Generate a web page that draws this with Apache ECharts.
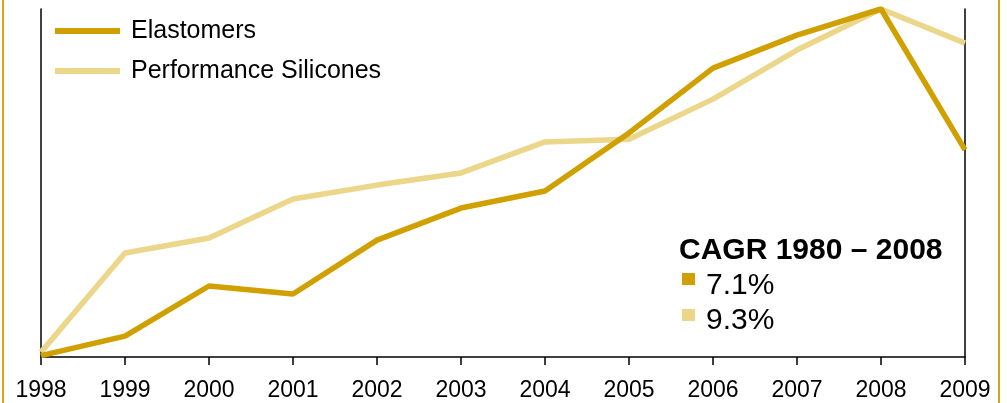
<!DOCTYPE html>
<html>
<head>
<meta charset="utf-8">
<script src="https://cdn.jsdelivr.net/npm/echarts@6/dist/echarts.min.js"></script>
<style>
html,body{margin:0;padding:0;background:#fff;}
#c{width:1007px;height:403px;}
</style>
</head>
<body>
<div id="c"></div>
<script>
var years = ['1998','1999','2000','2001','2002','2003','2004','2005','2006','2007','2008','2009'];
var elastomers = [0.4, 6.0, 20.4, 18.1, 33.6, 42.8, 47.7, 64.4, 83.0, 92.5, 100, 59.5];
var silicones = [1.4, 29.9, 34.2, 45.4, 49.4, 52.9, 61.8, 62.6, 74.1, 88.2, 100, 90.2];
var seriesNames = ['Elastomers', 'Performance Silicones'];
var cagrTitle = 'CAGR 1980 \u2013 2008';
var cagrValues = ['7.1%', '9.3%'];

var C1 = '#D0A000';
var C2 = '#EBD68A';
var FONT = '"Liberation Sans", Arial, sans-serif';

var chart = echarts.init(document.getElementById('c'), null, {renderer: 'canvas'});
chart.setOption({
  animation: false,
  backgroundColor: '#fff',
  grid: {left: 41, right: 42, top: 9, bottom: 46, containLabel: false},
  legend: {
    orient: 'vertical',
    left: 50,
    top: 13,
    itemWidth: 65,
    itemHeight: 6,
    itemGap: 14,
    icon: 'rect',
    data: [
      {name: seriesNames[0], itemStyle: {color: C1}},
      {name: seriesNames[1], itemStyle: {color: C2}}
    ],
    textStyle: {fontFamily: FONT, fontSize: 25, color: '#000', padding: [0, 0, 0, 6], lineHeight: 26}
  },
  xAxis: {
    type: 'category',
    data: years,
    boundaryGap: false,
    axisLine: {lineStyle: {color: '#000', width: 1.5}},
    axisTick: {show: true, inside: false, length: 8, lineStyle: {color: '#000', width: 1.5}},
    axisLabel: {fontFamily: FONT, fontSize: 23, color: '#000', margin: 22, showMinLabel: true, showMaxLabel: true, interval: 0},
    splitLine: {show: false}
  },
  yAxis: [
    {type: 'value', min: 0, max: 100, axisLine: {show: true, lineStyle: {color: '#000', width: 1.5}},
     axisTick: {show: false}, axisLabel: {show: false}, splitLine: {show: false}},
    {type: 'value', min: 0, max: 100, position: 'right', axisLine: {show: true, lineStyle: {color: '#000', width: 1.5}},
     axisTick: {show: false}, axisLabel: {show: false}, splitLine: {show: false}}
  ],
  series: [
    {name: seriesNames[1], type: 'line', data: silicones, showSymbol: false, symbol: 'none',
     lineStyle: {color: C2, width: 5.5}, itemStyle: {color: C2}, z: 2},
    {name: seriesNames[0], type: 'line', data: elastomers, showSymbol: false, symbol: 'none',
     lineStyle: {color: C1, width: 5.5}, itemStyle: {color: C1}, z: 3}
  ],
  graphic: [
    {type: 'rect', shape: {x: 2, y: 0, width: 2, height: 403}, style: {fill: '#D4A419'}, silent: true},
    {type: 'rect', shape: {x: 998, y: 0, width: 2, height: 403}, style: {fill: '#D4A419'}, silent: true},
    {type: 'text', left: 679, top: 236, style: {text: cagrTitle, font: 'bold 30px ' + FONT, fill: '#000'}},
    {type: 'rect', shape: {x: 682, y: 273, width: 13, height: 12}, style: {fill: C1}},
    {type: 'rect', shape: {x: 682, y: 309, width: 13, height: 12}, style: {fill: C2}},
    {type: 'text', left: 706, top: 271, style: {text: cagrValues[0], font: '30px ' + FONT, fill: '#000'}},
    {type: 'text', left: 706, top: 306, style: {text: cagrValues[1], font: '30px ' + FONT, fill: '#000'}}
  ]
});
</script>
</body>
</html>
